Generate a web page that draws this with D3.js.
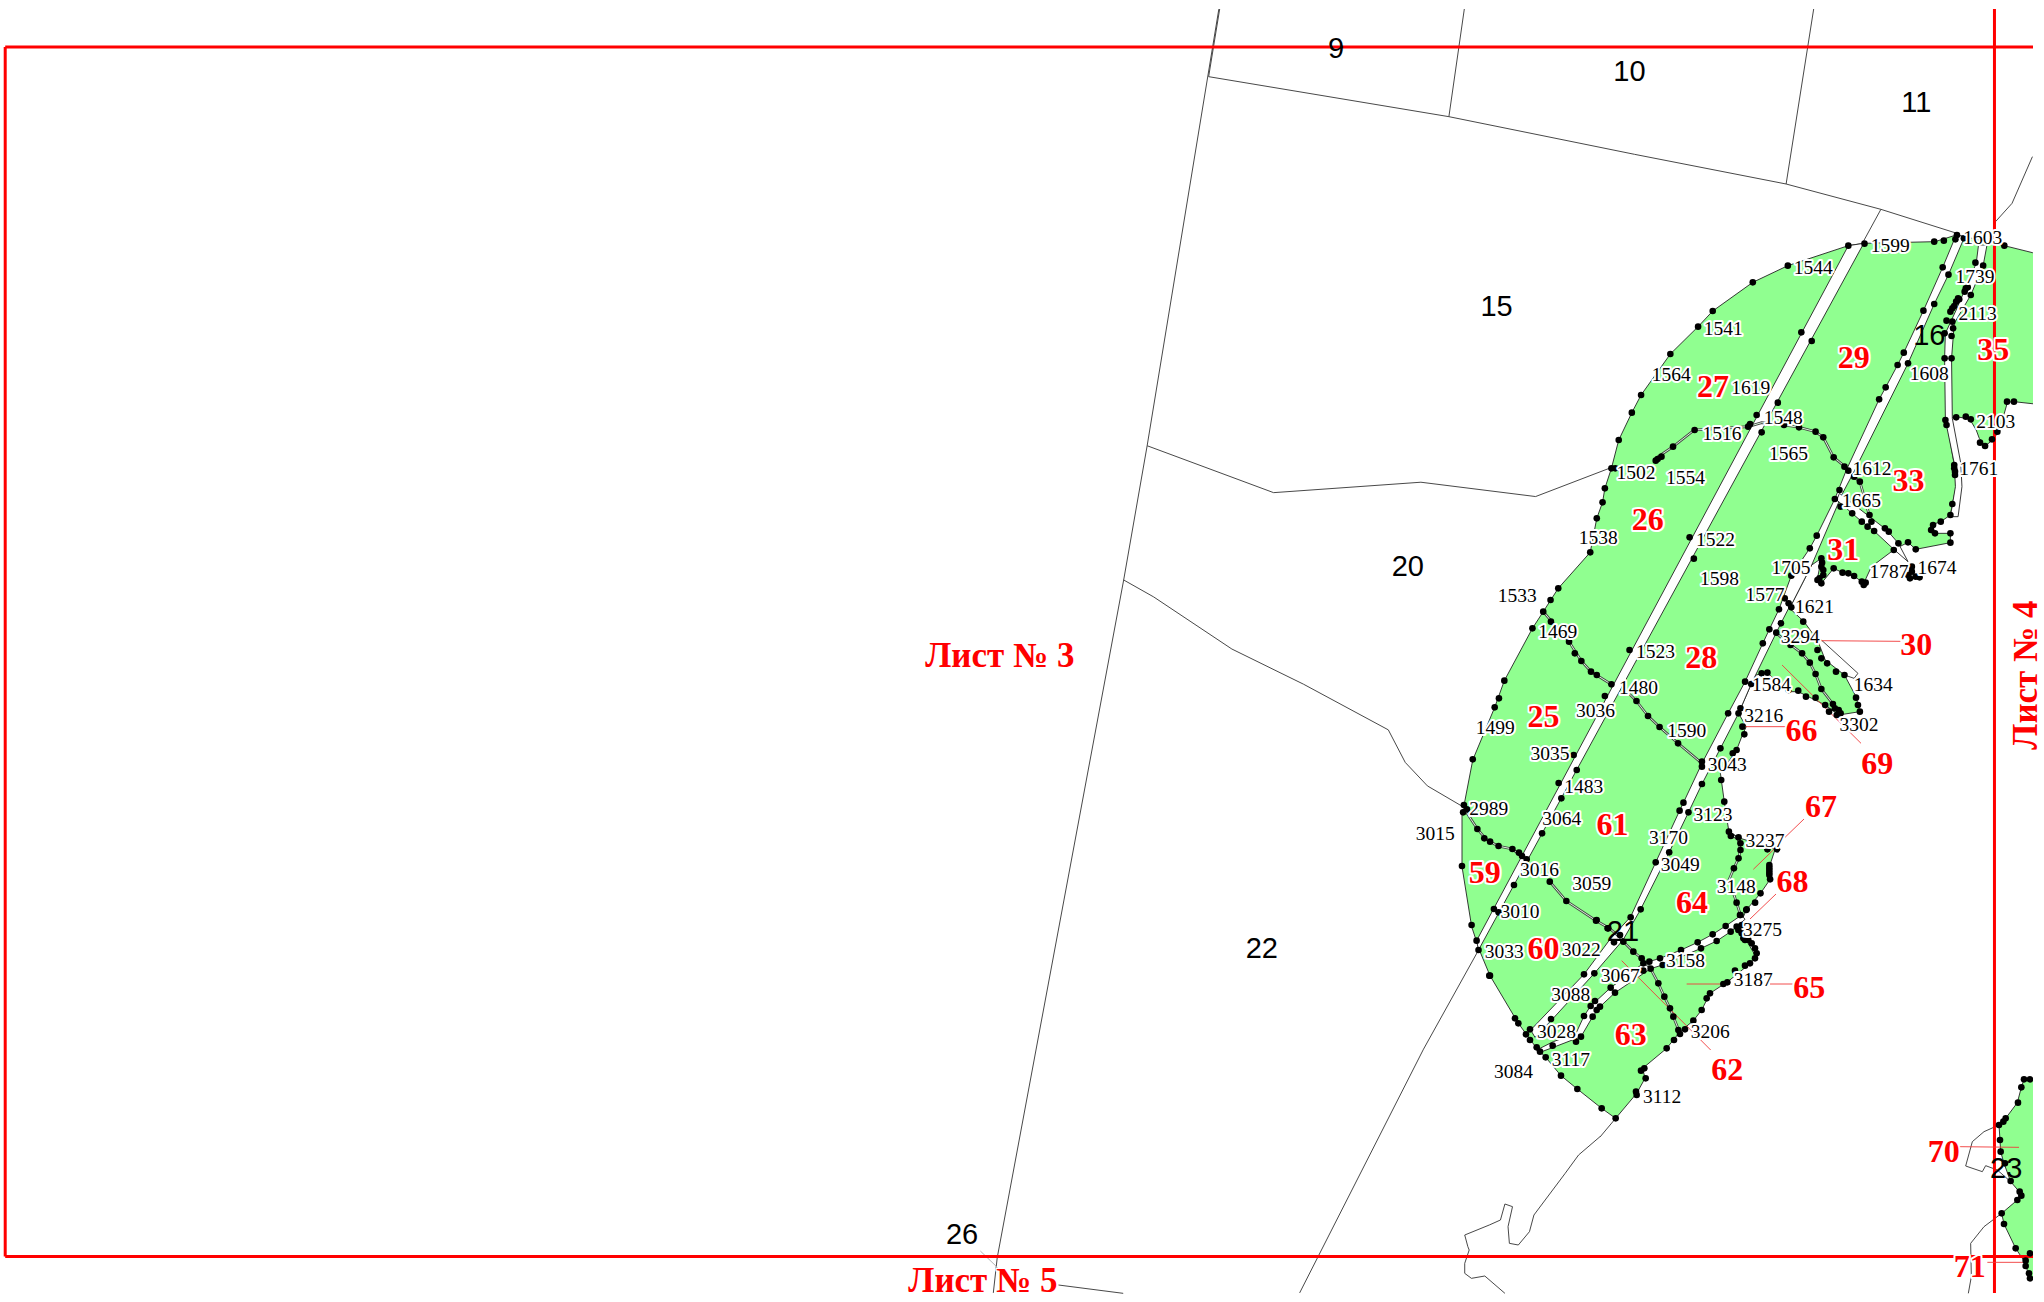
<!DOCTYPE html>
<html>
<head>
<meta charset="utf-8">
<script src="https://cdn.jsdelivr.net/npm/d3@7"></script>
<style>
  html, body { margin: 0; background: #fff; }
  svg { display: block; }
</style>
</head>
<body>
<svg id="map" width="2044" height="1302"></svg>
<script>
const makeSheet = (x0, x1, y0, y1, w, h) => ({
  x: d3.scaleLinear().domain([0, w]).range([x0, x1]),
  y: d3.scaleLinear().domain([0, h]).range([y0, y1])
});
const whole = makeSheet(0, 2044, 0, 1302, 1568, 999);
const north = makeSheet(1440, 2044, 200, 620, 1568, 1260);
const middle = makeSheet(1440, 2044, 600, 1020, 1568, 1260);
const south = makeSheet(1440, 1940, 800, 1150, 1500, 1050);
const corner = makeSheet(1844, 2044, 1050, 1302, 600, 756);
const bottom = makeSheet(900, 1600, 1050, 1302, 1568, 756);
const top_ = makeSheet(1180, 2044, 0, 270, 1568, 810);

// Green block outline, clockwise
const outlineNorthEast = [[1060,137],[1100,130],[1285,125],[1340,105],[1362,110],[1465,137],[1538,158],[1568,165],[1568,615],[1490,605],[1473,607],[1465,640],[1450,695],[1435,720],[1415,738],[1400,715],[1392,690],[1375,657],[1340,650],[1315,660],[1335,795],[1340,860],[1330,912],[1325,945],[1300,965],[1275,975],[1280,1000],[1325,1000],[1325,1028],[1235,1048],[1215,1027],[1180,1048],[1120,1100],[1100,1150],[1075,1128],[1045,1118],[1022,1105],[990,1150],[980,1135],[990,1075],[965,1095],[912,1215]];
const outlineEast = [[905,22],[945,65],[980,120],[1000,180],[1050,225],[1080,290],[1090,335],[1035,345],[1000,315],[965,295],[930,275],[900,275],[850,218],[820,225],[808,252],[790,300],[775,340],[795,380],[785,405],[770,450],[728,520],[738,605],[750,695],[780,715],[870,748],[855,800],[857,838],[832,880],[795,930],[775,985],[800,1030],[820,1070],[795,1100],[745,1147]];
const outlineSouth = [[860,547],[810,580],[785,630],[760,662],[720,695],[680,745],[608,805],[615,835],[590,880],[527,955],[485,925],[412,867],[363,827],[317,772],[290,745],[235,670],[150,527],[118,450],[95,380],[66,200],[66,30]];
const outlineWestMid = [[60,630],[85,480],[142,322],[167,242],[240,85],[268,35]];
const outlineWestNorth = [[268,1235],[307,1165],[390,1057],[407,955],[422,907],[428,865],[445,805],[464,720],[498,638],[522,585],[598,462],[670,380],[708,333],[812,247],[903,197],[1060,137]];
const cornerBlock = [[540,88],[600,88],[600,700],[555,685],[545,640],[515,595],[480,522],[473,490],[520,450],[530,430],[500,395],[480,340],[470,305],[468,270],[465,225],[485,205],[520,158],[532,112]];

// White strips between the plots
const road1North = [[1060,137],[1100,130]];
const road1Mid = [[100,1050],[95,1022]];
const road2LeftNorth = [[1340,105],[1305,202],[1255,332],[1204,458],[1188,495],[1157,562],[1140,598],[1055,810],[1025,897],[978,1007],[960,1045],[912,1127],[880,1228]];
const road2LeftMid = [[855,88],[838,130],[792,245],[748,340],[680,490],[632,608],[622,632],[560,787],[495,950],[440,1020]];
const road2LeftSouth = [[432,523],[272,690]];
const road2RightSouth = [[285,712],[335,660],[463,520]];
const road2RightMid = [[475,1020],[520,930],[595,757],[645,637],[680,552],[728,445],[775,340],[808,252],[873,98],[885,70],[905,25]];
const road2RightNorth = [[912,1215],[965,1095],[1045,880],[1077,810],[1215,490],[1283,312],[1320,224],[1362,110]];
const road3 = [[1398,135],[1420,135],[1410,197],[1378,285],[1335,370],[1328,475],[1330,655],[1352,790],[1355,860],[1345,950],[1325,950],[1338,860],[1335,790],[1312,660],[1310,475],[1312,400],[1340,330],[1392,190]];
const road4 = [[905,345],[857,378],[818,403],[773,427],[723,450],[660,475],[610,490],[512,563],[452,618],[432,648],[408,700],[340,725],[290,750],[300,757],[340,742],[423,710],[458,650],[480,620],[525,578],[632,506],[667,495],[783,445],[830,423],[872,395],[915,358]];
const strip31 = [[1037,880],[1115,950],[1160,990],[1190,1030],[1215,1085],[1180,1050],[1127,993],[1095,965],[1030,900]];

// Thin double boundaries inside the green
const seamsNorth = [
  [[445,805],[465,810]],
  [[560,775],[605,740],[660,690],[800,680],[835,668],[893,675],[932,682],[975,695],[995,712],[1022,772],[1055,803]],
  [[1075,830],[1090,845],[1105,905],[1115,950]]
];
const seamsMid = [
  [[268,35],[335,125],[367,183],[392,215],[445,253]],
  [[490,280],[510,303],[540,348],[570,381],[618,430],[680,490]],
  [[62,625],[97,687],[120,718],[150,738],[188,747],[210,768],[225,775]],
  [[285,845],[328,903],[405,962],[440,985],[475,1020]],
  [[750,695],[775,720],[780,750],[775,775],[763,805],[750,840],[770,908],[780,945]],
  [[873,100],[905,130],[940,160],[960,188],[975,222],[990,267],[1020,312],[1035,340]]
];
const seamsSouth = [
  [[550,425],[580,455],[605,475],[632,506],[655,550],[673,590],[690,625],[700,650],[718,695]]
];

// Thin black lines outside the plots
const linesWhole = [
  [[935,7],[880,342],[862,445],[765,965],[762,992]],
  [[880,342],[977,378],[1090,370],[1178,381],[1238,358]],
  [[862,445],[885,458],[945,498],[1000,525],[1065,560],[1078,585],[1095,603],[1124,620]],
  [[1137,724],[1092,805],[997,992]]
];
const linesTop = [
  [[52,230],[488,350],[825,463],[1100,552],[1272,628],[1410,700]],
  [[72,27],[52,230]],
  [[516,27],[488,350]],
  [[1150,27],[1100,552]],
  [[1272,628],[1240,725]],
  [[1547,470],[1510,610],[1480,665],[1478,690]]
];
const linesBottom = [
  [[1568,260],[1520,315],[1490,370],[1420,495],[1410,545],[1385,585],[1365,580],[1362,530],[1372,470],[1355,462],[1345,510],[1320,525],[1265,555],[1272,590],[1275,600],[1265,640],[1265,670],[1280,685],[1310,678],[1355,730]],
  [[355,705],[500,730]]
];
const linesCorner = [
  [[465,225],[420,245],[385,275],[365,348],[415,365],[425,347],[460,360],[500,395]],
  [[473,490],[420,530],[380,580],[382,680],[373,730]]
];
const linesMid = [
  [[990,120],[1085,220],[1075,235],[1050,225]]
];
const linesSouth = [
  [[527,955],[480,1011]]
];
// Grey leader under quarter number 26
const greyBottom = [[[180,603],[228,665]]];

// Boundary points
const dotsNorth = [[1060,137],[1102,131],[1283,125],[1308,122],[1338,118],[1342,105],[1360,115],[1465,137],[903,197],[812,247],[708,333],[670,380],[598,462],[522,585],[498,638],[464,720],[445,805],[455,805],[428,865],[422,907],[407,955],[390,1057],[307,1165],[287,1200],[268,1235],[938,397],[965,423],[822,645],[877,608],[835,697],[648,1012],[659,1076],[1305,202],[1320,224],[1255,332],[1283,312],[1204,458],[1215,490],[1188,495],[1157,562],[1140,598],[1037,870],[1025,897],[978,1007],[960,1045],[912,1127],[1390,188],[1410,197],[1378,285],[1365,265],[1370,262],[1362,275],[1348,298],[1345,295],[1340,305],[1335,318],[1330,325],[1325,335],[1315,362],[1330,365],[1332,385],[1310,400],[1328,408],[1310,475],[1328,475],[1312,660],[1315,675],[1340,652],[1365,650],[1378,658],[1472,605],[1490,605],[1447,695],[1433,718],[1415,738],[1402,728],[661,690],[605,740],[575,770],[565,777],[560,782],[800,680],[805,672],[893,675],[932,682],[975,695],[995,712],[1022,772],[1050,800],[1060,812],[1075,830],[1090,845],[1335,795],[1335,805],[1337,815],[1337,825],[1330,912],[1325,945],[1300,965],[1280,975],[1275,990],[1285,1000],[1325,1000],[1325,1028],[1235,1048],[1215,1027],[1190,1030],[1178,1050],[1040,920],[1070,940],[1095,965],[1110,980],[1127,993],[1115,945],[1120,965],[1155,985],[1165,995],[1022,1105],[1045,1118],[1060,1120],[1075,1128],[1095,1145],[1100,1155],[1105,1148],[990,1075],[992,1088],[990,1100],[995,1110],[995,1125],[985,1135],[980,1140],[990,1150],[1215,1125],[1220,1135],[1225,1100],[1225,1115],[1235,1130],[1245,1132],[895,1195],[880,1228],[905,1210],[912,1222]];
const dotsMid = [[240,85],[288,65],[335,125],[350,160],[367,183],[392,215],[407,225],[445,253],[492,150],[428,288],[510,303],[540,348],[570,381],[618,430],[680,485],[680,500],[167,242],[153,295],[142,322],[85,478],[347,465],[355,510],[308,549],[315,595],[265,700],[62,615],[70,628],[60,637],[97,687],[115,715],[130,725],[152,738],[188,747],[205,758],[213,768],[225,778],[192,855],[140,927],[152,937],[57,798],[82,975],[95,1022],[100,1050],[128,1127],[285,845],[328,903],[405,962],[435,985],[855,88],[885,70],[873,98],[838,130],[792,245],[808,252],[748,340],[775,340],[780,325],[728,445],[790,403],[785,380],[770,450],[760,460],[730,540],[738,605],[680,552],[632,608],[622,632],[645,637],[595,757],[560,787],[750,695],[755,708],[775,712],[780,730],[780,750],[775,775],[763,805],[770,908],[780,945],[795,930],[818,908],[832,880],[855,795],[855,803],[855,810],[855,818],[855,825],[857,838],[875,748],[850,748],[943,65],[980,150],[990,175],[1005,190],[1028,215],[1050,225],[1080,293],[1085,315],[1090,335],[1025,325],[1035,330],[1030,345],[1040,340],[1020,312],[990,267],[975,222],[960,188],[940,160],[910,135],[835,220],[850,218],[905,270],[930,272],[950,290],[975,293],[1000,315],[1010,335]];
const dotsSouth = [[572,352],[602,328],[522,427],[550,425],[470,360],[505,385],[540,405],[580,455],[605,475],[610,490],[628,485],[660,475],[723,450],[773,427],[818,403],[857,378],[900,345],[920,328],[668,495],[632,506],[610,512],[783,445],[830,423],[872,395],[890,380],[895,390],[905,375],[905,400],[910,415],[915,420],[925,420],[935,430],[945,445],[950,460],[945,475],[930,490],[915,497],[885,512],[862,547],[850,552],[810,580],[800,595],[785,630],[760,662],[735,688],[715,690],[720,702],[700,650],[690,625],[673,590],[655,550],[702,720],[680,745],[613,805],[603,812],[617,835],[588,875],[590,885],[527,955],[485,925],[412,867],[363,827],[317,772],[300,755],[290,742],[270,720],[258,703],[270,688],[235,670],[225,655],[333,657],[338,737],[408,725],[423,710],[432,648],[458,650],[452,618],[465,603],[480,620],[470,630],[512,563],[525,578],[432,523],[463,520],[150,527]];
const dotsCorner = [[540,88],[558,88],[532,112],[522,158],[485,205],[478,215],[465,225],[468,270],[470,305],[483,340],[500,393],[527,425],[532,437],[520,450],[473,490],[480,522],[515,595],[558,610],[545,632],[545,648],[555,670],[558,685]];

// Red leader lines
const leadersMid = [[[985,122],[1195,124]],[[778,380],[900,380]],[[888,195],[1093,430]]];
const leadersSouth = [[[940,208],[1005,145]],[[1035,112],[1092,57]],[[930,357],[1008,282]],[[740,552],[870,552]],[[990,552],[1058,552]],[[545,482],[812,750]]];
const leadersCorner = [[[345,290],[525,292]],[[430,637],[545,637]]];

// Point numbers, plot numbers, quarter numbers
const pointLabels = [["1599",1450,188],["1603",1521,182],["1544",1391,205],["1739",1515,212],["2113",1517,240],["1541",1322,252],["1564",1282,287],["1619",1343,297],["1608",1480,286],["1548",1368,320],["2103",1531,323],["1516",1321,332],["1565",1372,348],["1502",1255,362],["1612",1436,359],["1761",1518,359],["1554",1293,366],["1665",1428,384],["1538",1226,412],["1522",1316,414],["1705",1374,435],["1787",1449,438],["1674",1486,435],["1598",1319,444],["1533",1164,457],["1577",1354,456],["1621",1392,465],["1469",1195,484],["3294",1381,488],["1523",1270,500],["1634",1437,525],["1584",1359,525],["1480",1257,527],["3036",1224,545],["3216",1353,549],["3302",1426,556],["1499",1147,558],["1590",1294,560],["3035",1189,578],["3043",1325,586],["1483",1215,603],["2989",1142,620],["3123",1314,625],["3064",1198,628],["3015",1101,639],["3170",1280,642],["3237",1354,645],["3049",1289,663],["3016",1181,667],["3059",1221,678],["3148",1332,680],["3010",1166,699],["3275",1352,713],["3022",1213,728],["3033",1154,730],["3158",1293,737],["3067",1243,748],["3187",1345,751],["3088",1205,763],["3206",1312,791],["3028",1194,791],["3117",1205,813],["3084",1161,822],["3112",1275,841]];
const plotLabels = [["35",1529,268],["29",1422,274],["27",1314,296],["33",1464,368],["26",1264,398],["31",1414,421],["30",1470,494],["28",1305,504],["25",1184,549],["66",1382,560],["69",1440,585],["67",1397,618],["61",1237,632],["59",1139,669],["68",1375,676],["64",1298,692],["60",1184,727],["65",1388,757],["63",1251,793],["62",1325,820],["70",1491,883],["71",1511,971]];
const quarterLabels = [["9",1025,37],["10",1250,54],["11",1470,78],["15",1148,235],["16",1480,257],["20",1080,434],["22",968,727],["21",1245,714],["23",1539,896],["26",738,947]];
const sheetLabels = [["Лист № 3",767,502,0],["Лист № 4",1553,518,-90],["Лист № 5",754,982,0]];

// Red sheet frame
const frameH = [[[4,36],[1560,36]],[[4,964],[1560,964]]];
const frameV = [[[4,36],[4,964]],[[1530,7],[1530,992]]];

const place = (sheet, pts) => pts.map(([a, b]) => [sheet.x(a), sheet.y(b)]);
const line = d3.line();
const closed = pts => line(pts) + "Z";

const svg = d3.select("#map");
svg.append("clipPath").attr("id", "sheet-clip")
  .append("rect").attr("x", 0).attr("y", 9).attr("width", 2033).attr("height", 1285);
const plot = svg.append("g").attr("clip-path", "url(#sheet-clip)");

// Outer thin lines
const thinLines = [
  ...linesWhole.map(l => place(whole, l)),
  ...linesTop.map(l => place(top_, l)),
  ...linesBottom.map(l => place(bottom, l)),
  ...linesCorner.map(l => place(corner, l)),
  ...linesMid.map(l => place(middle, l)),
  ...linesSouth.map(l => place(south, l))
];
plot.selectAll("path.thin").data(thinLines).enter().append("path")
  .attr("class", "thin").attr("d", line)
  .attr("fill", "none").attr("stroke", "#333").attr("stroke-width", 0.9);
plot.selectAll("path.grey").data(greyBottom.map(l => place(bottom, l))).enter().append("path")
  .attr("class", "grey").attr("d", line)
  .attr("fill", "none").attr("stroke", "#aaa").attr("stroke-width", 0.9);

// Green plots
const outer = [
  ...place(north, outlineNorthEast),
  ...place(middle, outlineEast),
  ...place(south, outlineSouth),
  ...place(middle, outlineWestMid),
  ...place(north, outlineWestNorth)
];
plot.selectAll("path.green").data([outer, place(corner, cornerBlock)]).enter().append("path")
  .attr("class", "green").attr("d", closed)
  .attr("fill", "#90ff90").attr("stroke", "#222").attr("stroke-width", 0.9);

// White strips on top of the green
const road1 = [...place(north, road1North), ...place(middle, road1Mid)];
const road2 = [
  ...place(north, road2LeftNorth),
  ...place(middle, road2LeftMid),
  ...place(south, road2LeftSouth),
  ...place(south, road2RightSouth),
  ...place(middle, road2RightMid),
  ...place(north, road2RightNorth)
];
const strips = [road1, road2, place(north, road3), place(south, road4), place(north, strip31)];
plot.selectAll("path.strip").data(strips).enter().append("path")
  .attr("class", "strip").attr("d", closed)
  .attr("fill", "#fff").attr("stroke", "#222").attr("stroke-width", 0.9);

// Double seams: dark line with a pale core
const seams = [
  ...seamsNorth.map(l => place(north, l)),
  ...seamsMid.map(l => place(middle, l)),
  ...seamsSouth.map(l => place(south, l))
];
plot.selectAll("path.seam").data(seams).enter().append("path")
  .attr("class", "seam").attr("d", line)
  .attr("fill", "none").attr("stroke", "#444").attr("stroke-width", 2.6);
plot.selectAll("path.seam-core").data(seams).enter().append("path")
  .attr("class", "seam-core").attr("d", line)
  .attr("fill", "none").attr("stroke", "#d8f5d8").attr("stroke-width", 1);

// Red frame
const frameLines = [...frameH, ...frameV].map(l => place(whole, l));
plot.selectAll("path.frame").data(frameLines).enter().append("path")
  .attr("class", "frame").attr("d", line)
  .attr("fill", "none").attr("stroke", "#ff0000").attr("stroke-width", 3);

// Leaders
const leaders = [
  ...leadersMid.map(l => place(middle, l)),
  ...leadersSouth.map(l => place(south, l)),
  ...leadersCorner.map(l => place(corner, l))
];
plot.selectAll("path.leader").data(leaders).enter().append("path")
  .attr("class", "leader").attr("d", line)
  .attr("fill", "none").attr("stroke", "#f03a3a").attr("stroke-width", 0.9);

// Boundary dots
const dots = [
  ...place(north, dotsNorth),
  ...place(middle, dotsMid),
  ...place(south, dotsSouth),
  ...place(corner, dotsCorner)
];
plot.selectAll("circle").data(dots).enter().append("circle")
  .attr("cx", d => d[0]).attr("cy", d => d[1]).attr("r", 3.3).attr("fill", "#000");

// Labels, all with a white halo
function drawLabels(rows, family, weight, size, color, haloWidth) {
  svg.append("g").selectAll("text").data(rows).enter().append("text")
    .attr("transform", d => `translate(${whole.x(d[1])},${whole.y(d[2])}) rotate(${d[3] || 0})`)
    .attr("text-anchor", "middle")
    .attr("dy", "0.35em")
    .attr("font-family", family)
    .attr("font-weight", weight)
    .attr("font-size", size)
    .attr("fill", color)
    .attr("stroke", haloWidth ? "#fff" : "none")
    .attr("stroke-width", haloWidth)
    .attr("stroke-linejoin", "round")
    .attr("paint-order", "stroke")
    .text(d => d[0]);
}
drawLabels(pointLabels, "'Liberation Serif'", "normal", 19.5, "#000", 4);
drawLabels(plotLabels, "'Liberation Serif'", "bold", 32, "#ff0000", 4);
drawLabels(sheetLabels, "'Liberation Serif'", "bold", 35, "#ff0000", 3);
drawLabels(quarterLabels, "'Liberation Sans'", "normal", 29, "#000", 0);
</script>
</body>
</html>
